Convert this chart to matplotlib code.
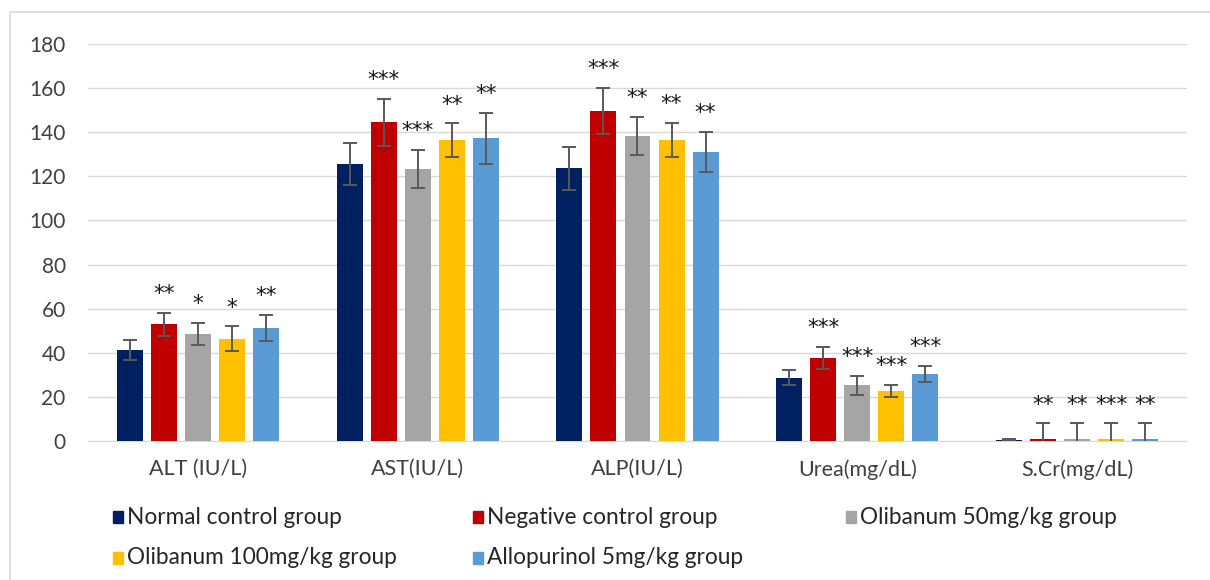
import matplotlib
matplotlib.use("Agg")
import matplotlib.pyplot as plt
from matplotlib.patches import Rectangle
import numpy as np

plt.rcParams["font.family"] = ["Lato", "DejaVu Sans"]

categories = ["ALT (IU/L)", "AST(IU/L)", "ALP(IU/L)", "Urea(mg/dL)", "S.Cr(mg/dL)"]
groups = ["Normal control group", "Negative control group", "Olibanum 50mg/kg group",
          "Olibanum 100mg/kg group", "Allopurinol 5mg/kg group"]
colors = ["#002060", "#C00000", "#A5A5A5", "#FFC000", "#5B9BD5"]

# mean values per group, in category order
normal = [41.3, 125.6, 123.6, 28.7, 0.6]
negative = [52.9, 144.5, 149.6, 37.8, 1.0]
olib50 = [48.6, 123.3, 138.4, 25.2, 0.8]
olib100 = [46.4, 136.4, 136.4, 22.8, 0.8]
allo = [51.2, 137.2, 131.2, 30.4, 0.9]

# standard errors
normal_err = [4.4, 9.5, 9.6, 3.3, 0.1]
negative_err = [5.2, 10.5, 10.6, 5.0, 7.0]
olib50_err = [4.9, 8.7, 8.6, 4.2, 7.2]
olib100_err = [5.6, 7.6, 7.8, 2.7, 7.2]
allo_err = [6.0, 11.6, 9.0, 3.7, 7.1]

# significance marks
normal_sig = ["", "", "", "", ""]
negative_sig = ["**", "***", "***", "***", "**"]
olib50_sig = ["*", "***", "**", "***", "**"]
olib100_sig = ["*", "**", "**", "***", "***"]
allo_sig = ["**", "**", "**", "***", "**"]

means = [normal, negative, olib50, olib100, allo]
errs = [normal_err, negative_err, olib50_err, olib100_err, allo_err]
sigs = [normal_sig, negative_sig, olib50_sig, olib100_sig, allo_sig]

fig = plt.figure(figsize=(12.1, 5.8), dpi=100)
ax = fig.add_axes([0.0727, 0.2397, 0.9083, 0.6843])

x = np.arange(len(categories))
step = 0.155
width = 0.118
for i, (m, e, s) in enumerate(zip(means, errs, sigs)):
    xs = x + (i - 2) * step
    ax.bar(xs, m, width, color=colors[i], zorder=3)
    ax.errorbar(xs, m, yerr=e, fmt="none", ecolor="#595959", elinewidth=1.4,
                capsize=5, capthick=1.4, zorder=4)
    for xi, mi, ei, si in zip(xs, m, e, s):
        if si:
            ax.text(xi, mi + ei + 8.5, si, ha="center", va="center",
                    fontsize=15.5, color="#1a1a1a", family="DejaVu Sans")

ax.set_xlim(-0.5, 4.5)
ax.set_ylim(0, 180)
ax.set_yticks(np.arange(0, 181, 20))
ax.set_xticks(x)
ax.set_xticklabels(categories)
ax.yaxis.grid(True, color="#D9D9D9", lw=1.0, zorder=0)
for side in ["top", "right", "left"]:
    ax.spines[side].set_visible(False)
ax.spines["bottom"].set_color("#D9D9D9")
ax.tick_params(axis="both", length=0, colors="#404040")
ax.tick_params(axis="y", pad=16, labelsize=15)
ax.tick_params(axis="x", pad=13, labelsize=15.5)

# legend laid out as a 3 x 2 grid under the plot
slots = [(118, 517), (478, 517), (851, 517), (118, 558), (478, 558)]
for (px, py), name, c in zip(slots, groups, colors):
    fx, fy = px / 1210, 1 - py / 580
    fig.patches.append(Rectangle((fx - 0.0045, fy - 0.0105), 0.0085, 0.021,
                                 transform=fig.transFigure, color=c))
    fig.text(fx + 0.0075, fy, name, ha="left", va="center", fontsize=16.3,
             color="#262626")

# thin frame around the chart area
fig.patches.append(Rectangle((10 / 1210, -0.05), 1.2, 1 - 12 / 580 + 0.05,
                             transform=fig.transFigure, fill=False,
                             edgecolor="#D9D9D9", lw=1.2))

fig.savefig("out.png", dpi=100, facecolor="white")
